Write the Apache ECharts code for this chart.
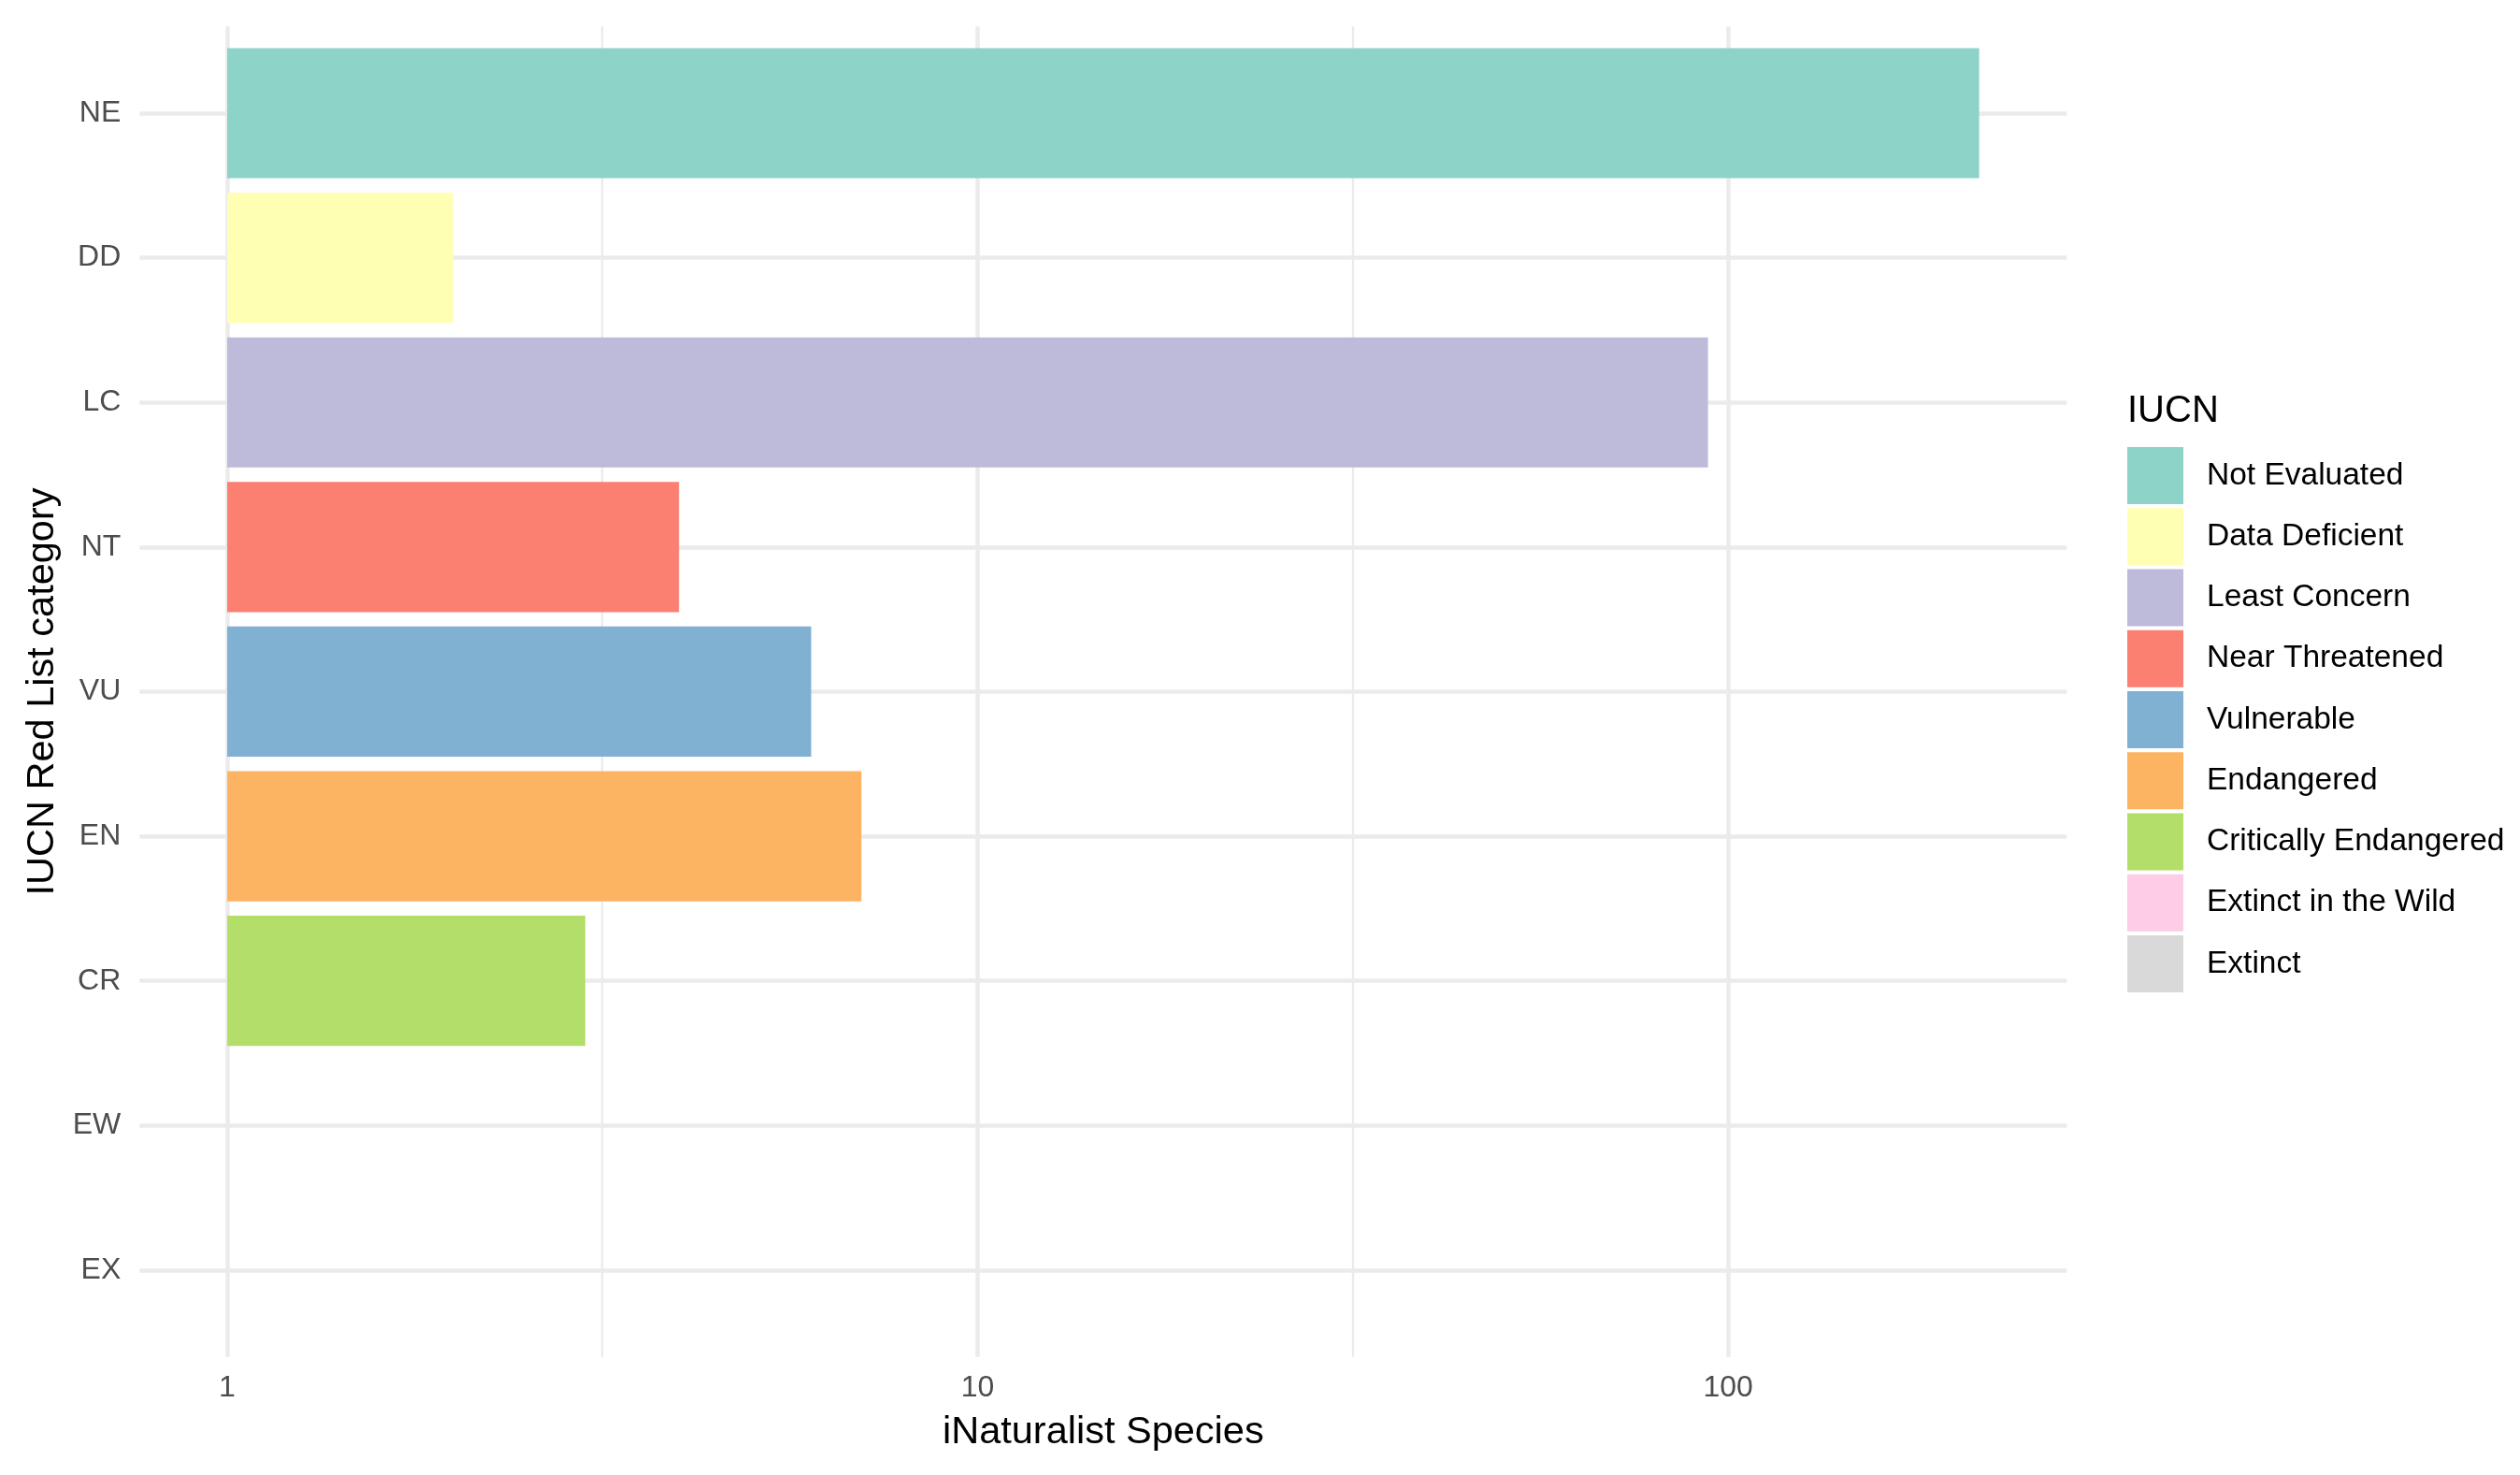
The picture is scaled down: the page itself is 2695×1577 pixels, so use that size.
<!DOCTYPE html>
<html>
<head>
<meta charset="utf-8">
<script src="https://cdn.jsdelivr.net/npm/echarts@6/dist/echarts.min.js"></script>
<style>
html,body{margin:0;padding:0;background:#fff;}
#chart{width:2695px;height:1577px;}
</style>
</head>
<body>
<div id="chart"></div>
<script>
// ---- data ----
const categories = ['NE', 'DD', 'LC', 'NT', 'VU', 'EN', 'CR', 'EW', 'EX'];
const statusNames = ['Not Evaluated', 'Data Deficient', 'Least Concern', 'Near Threatened',
  'Vulnerable', 'Endangered', 'Critically Endangered', 'Extinct in the Wild', 'Extinct'];
const speciesCounts = [216, 2, 94, 4, 6, 7, 3, null, null];
const statusColors = ['#8DD3C7', '#FFFFB3', '#BEBADA', '#FB8072', '#80B1D3', '#FDB462',
  '#B3DE69', '#FCCDE5', '#D9D9D9'];
const minorBreakExponents = [0.5, 1.5];

// ---- scale limits (ggplot-style 5% expansion in log space) ----
const maxLog = Math.log10(Math.max(...speciesCounts.filter(v => v != null)));
const xMin = Math.pow(10, -0.05 * maxLog);
const xMax = Math.pow(10, 1.05 * maxLog);

const FONT = '"Liberation Sans", Arial, Helvetica, sans-serif';
const GRID_COLOR = '#ebebeb';

const barSeries = statusNames.map((name, i) => ({
  type: 'bar',
  name: name,
  xAxisIndex: 1,
  yAxisIndex: 1,
  data: categories.map((c, j) => (j === i ? speciesCounts[i] : null)),
  barWidth: '90%',
  barGap: '-100%',
  clip: false,
  itemStyle: { color: statusColors[i] },
  emphasis: { disabled: true },
  z: 2
}));

const gridSeries = {
  type: 'line',
  name: '_minor',
  xAxisIndex: 0,
  yAxisIndex: 0,
  data: [],
  silent: true,
  z: 1,
  markLine: {
    silent: true,
    z: 1,
    symbol: ['none', 'none'],
    label: { show: false },
    lineStyle: { color: GRID_COLOR, width: 2.3, type: 'solid' },
    data: minorBreakExponents.map(e => ({ xAxis: Math.pow(10, e) }))
  }
};

const chart = echarts.init(document.getElementById('chart'), null, { renderer: 'canvas' });
chart.setOption({
  animation: false,
  backgroundColor: '#ffffff',
  textStyle: { fontFamily: FONT },
  title: {
    text: 'IUCN',
    left: 2275,
    top: 420,
    padding: 0,
    textStyle: { fontFamily: FONT, fontSize: 40, fontWeight: 'normal', color: '#000000' }
  },
  legend: {
    orient: 'vertical',
    left: 2275,
    top: 478,
    padding: 0,
    itemWidth: 60,
    itemHeight: 61,
    itemGap: 4.25,
    icon: 'rect',
    selectedMode: false,
    data: statusNames,
    textStyle: { fontFamily: FONT, fontSize: 33.5, color: '#000000', padding: [12, 0, 0, 20] }
  },
  grid: [
    { left: 149.3, right: 484.7, top: 28.2, bottom: 126.3, containLabel: false },
    { left: 149.3, right: 484.7, top: 121, bottom: 219.1, containLabel: false }
  ],
  xAxis: [
    {
      type: 'log',
      gridIndex: 0,
      min: xMin,
      max: xMax,
      logBase: 10,
      axisLine: { show: false },
      axisTick: { show: false },
      axisLabel: {
        fontFamily: FONT, fontSize: 32, color: '#4d4d4d', margin: 17,
        showMinLabel: false, showMaxLabel: false
      },
      splitLine: {
        show: true, showMinLine: false, showMaxLine: false,
        lineStyle: { color: GRID_COLOR, width: 4.5 }
      },
      name: 'iNaturalist Species',
      nameLocation: 'middle',
      nameGap: 60,
      nameTextStyle: { fontFamily: FONT, fontSize: 41.5, color: '#000000' }
    },
    {
      type: 'log',
      gridIndex: 1,
      min: xMin,
      max: xMax,
      logBase: 10,
      show: false,
      splitLine: { show: false }
    }
  ],
  yAxis: [
    {
      type: 'value',
      gridIndex: 0,
      min: 0,
      max: 1,
      show: false,
      splitLine: { show: false }
    },
    {
      type: 'category',
      gridIndex: 1,
      data: categories,
      inverse: true,
      boundaryGap: false,
      axisLine: { show: false },
      axisTick: { show: false },
      axisLabel: { fontFamily: FONT, fontSize: 32, color: '#4d4d4d', margin: 20 },
      splitLine: { show: true, lineStyle: { color: GRID_COLOR, width: 4.5 } },
      name: 'IUCN Red List category',
      nameLocation: 'middle',
      nameGap: 82,
      nameRotate: 90,
      nameTextStyle: { fontFamily: FONT, fontSize: 41.5, color: '#000000' }
    }
  ],
  series: barSeries.concat([gridSeries])
});
</script>
</body>
</html>
